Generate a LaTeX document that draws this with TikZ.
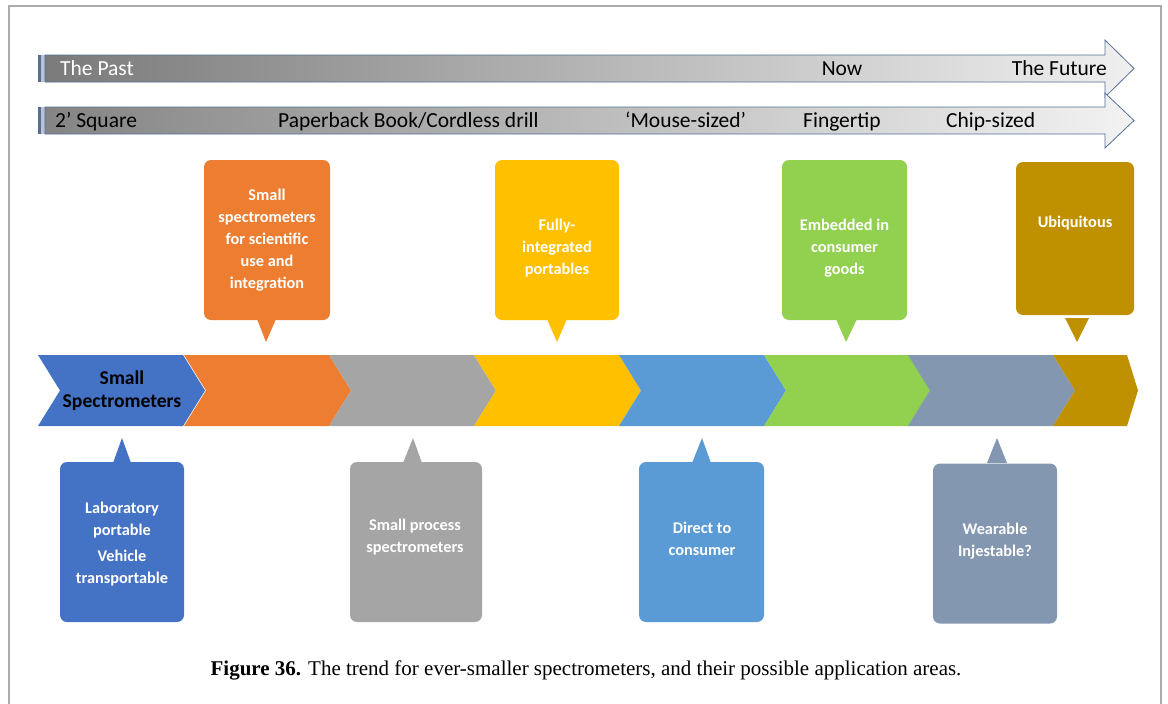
\documentclass[tikz,border=0pt]{standalone}
\usepackage{fontspec}
\setmainfont{Carlito}
\newfontfamily\capfont{Liberation Serif}
\usepackage{xcolor}
\usetikzlibrary{calc}

\definecolor{cBlue}{HTML}{4472C4}
\definecolor{cOrange}{HTML}{ED7D31}
\definecolor{cGray}{HTML}{A5A5A5}
\definecolor{cYellow}{HTML}{FFC000}
\definecolor{cSky}{HTML}{5B9BD5}
\definecolor{cGreen}{HTML}{92D050}
\definecolor{cSlate}{HTML}{8497B0}
\definecolor{cGold}{HTML}{BF9000}
\definecolor{cEdge}{HTML}{566F95}
\definecolor{cStripe}{HTML}{B9C3D3}

\tikzset{
  callbox/.style={rectangle, rounded corners=7pt, inner sep=0pt},
  calltext/.style={text=white, align=center, inner sep=0pt, font=\bfseries\fontsize{16.3}{22}\selectfont},
  bartext/.style={inner sep=0pt, font=\fontsize{21.5}{24}\selectfont},
  chevtext/.style={align=center, inner sep=0pt, font=\bfseries\fontsize{19.6}{23}\selectfont}
}

\begin{document}
\begin{tikzpicture}[x=1pt, y=-1pt]
\useasboundingbox (0,0) rectangle (1168,704);
\draw[gray!65, line width=1.2pt] (9,704) -- (9,6) -- (1161,6) -- (1161,704);
% time arrows
\fill[cEdge] (38,55) rectangle (40.5,82); \fill[cStripe] (40.5,55) rectangle (45,82);
\shade[left color=black!52, right color=black!6, draw=cEdge, line width=0.8pt] (45,55) -- (1105,55) -- (1105,40) -- (1134,68.5) -- (1105,97) -- (1105,82) -- (45,82) -- cycle;
\fill[cEdge] (38,107) rectangle (40.5,134); \fill[cStripe] (40.5,107) rectangle (45,134);
\shade[left color=black!48, right color=black!5, draw=cEdge, line width=0.8pt] (45,107) -- (1105,107) -- (1105,93) -- (1134,120.5) -- (1105,148) -- (1105,134) -- (45,134) -- cycle;
\node[bartext, text=white, anchor=base west] (past) at (60,75.5) {The Past};
\node[bartext, anchor=base] (now) at (842,75.5) {Now};
\node[bartext, anchor=base east] (future) at (1107,75.5) {The Future};
\node[bartext, anchor=base west] (square) at (55,127.5) {2’ Square};
\node[bartext, anchor=base west] (book) at (278,127.5) {Paperback Book/Cordless drill};
\node[bartext, anchor=base west] (mouse) at (625,127.5) {‘Mouse-sized’};
\node[bartext, anchor=base west] (finger) at (803,127.5) {Fingertip};
\node[bartext, anchor=base west] (chip) at (946,127.5) {Chip-sized};
% chevron band
\foreach \x/\col in {38/cBlue, 184/cOrange, 329/cGray, 474/cYellow, 619/cSky, 764/cGreen, 908/cSlate}
  \fill[\col] (\x,355) -- ++(145,0) -- ++(22,35.5) -- ++(-22,35.5) -- ++(-145,0) -- ++(22,-35.5) -- cycle;
\fill[cGold] (1053,355) -- (1127,355) -- (1138,390.5) -- (1127,426) -- (1053,426) -- (1075,390.5) -- cycle;
\node[chevtext] (spec) at (122,391) {Small\\Spectrometers};
% callouts above
\node[callbox, fill=cOrange, minimum width=126pt, minimum height=160pt] (bScience) at (267,240) {};
\node[calltext] (tScience) at (267,240) {Small\\spectrometers\\for scientific\\use and\\integration};
\coordinate (pScience) at (266,342);
\fill[cOrange] (257,319) -- (276,319) -- (pScience) -- cycle;
\node[callbox, fill=cYellow, minimum width=124pt, minimum height=160pt] (bPortable) at (557,240) {};
\node[calltext] (tPortable) at (557,248) {Fully-\\integrated\\portables};
\coordinate (pPortable) at (557,342);
\fill[cYellow] (547,319) -- (567,319) -- (pPortable) -- cycle;
\node[callbox, fill=cGreen, minimum width=125pt, minimum height=160pt] (bGoods) at (844.5,240) {};
\node[calltext] (tGoods) at (844.5,248) {Embedded in\\consumer\\goods};
\coordinate (pGoods) at (846,342);
\fill[cGreen] (836,319) -- (857,319) -- (pGoods) -- cycle;
\node[callbox, fill=cGold, minimum width=118pt, minimum height=153pt] (bUbiq) at (1075,238.5) {};
\node[calltext, anchor=base] (tUbiq) at (1075,227) {Ubiquitous};
\coordinate (pUbiq) at (1077,342);
\fill[cGold] (1065,318) -- (1089,318) -- (pUbiq) -- cycle;
% callouts below
\node[callbox, fill=cBlue, minimum width=124pt, minimum height=160pt] (bLab) at (122,542) {};
\node[calltext] (tLab) at (122,544.5) {Laboratory\\portable\\[4pt]Vehicle\\transportable};
\coordinate (pLab) at (122,438);
\fill[cBlue] (113,463) -- (131,463) -- (pLab) -- cycle;
\node[callbox, fill=cGray, minimum width=132pt, minimum height=160pt] (bProcess) at (416,542) {};
\node[calltext] (tProcess) at (415,537.5) {Small process\\spectrometers};
\coordinate (pProcess) at (413,438);
\fill[cGray] (403,463) -- (422,463) -- (pProcess) -- cycle;
\node[callbox, fill=cSky, minimum width=125pt, minimum height=160pt] (bDirect) at (701.5,542) {};
\node[calltext] (tDirect) at (702,539) {Direct to\\consumer};
\coordinate (pDirect) at (702,438);
\fill[cSky] (692,463) -- (711,463) -- (pDirect) -- cycle;
\node[callbox, fill=cSlate, minimum width=124pt, minimum height=160pt] (bWear) at (995,543.5) {};
\node[calltext] (tWear) at (995,541.5) {Wearable\\Injestable?};
\coordinate (pWear) at (997,438);
\fill[cSlate] (987,463) -- (1007,463) -- (pWear) -- cycle;
% caption
\node[anchor=base, inner sep=0pt, font=\capfont\fontsize{21}{24}\selectfont] (caption) at (586,675) {\textbf{Figure 36.} The trend for ever-smaller spectrometers, and their possible application areas.};
\end{tikzpicture}
\end{document}
